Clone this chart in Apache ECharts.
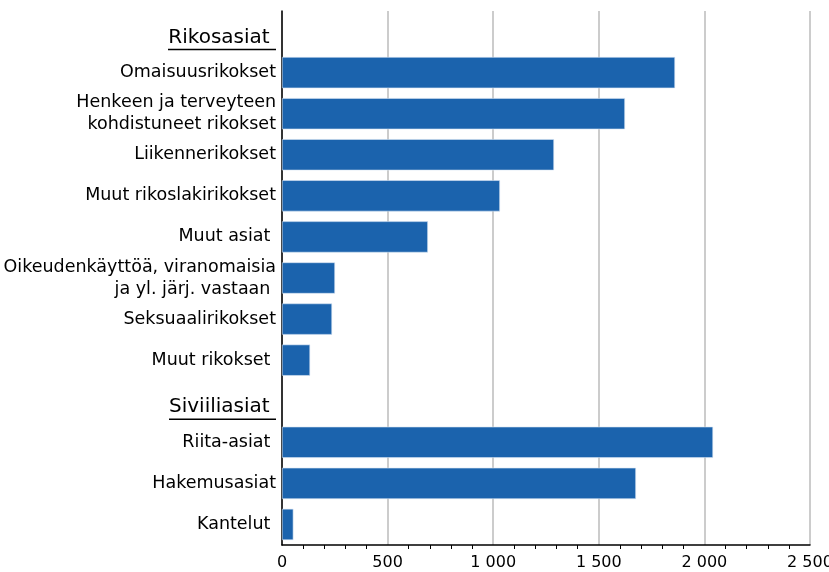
<!DOCTYPE html>
<html>
<head>
<meta charset="utf-8">
<script src="https://cdn.jsdelivr.net/npm/echarts@6/dist/echarts.min.js"></script>
<style>
  html, body { margin: 0; padding: 0; background: #fff; }
  #chart { width: 829px; height: 572px; }
</style>
</head>
<body>
<div id="chart"></div>
<script>
// luokat ylhäältä alas, otsikkorivit ilman arvoa
const categories = [
  'Rikosasiat ',
  'Omaisuusrikokset',
  'Henkeen ja terveyteen\nkohdistuneet rikokset',
  'Liikennerikokset',
  'Muut rikoslakirikokset',
  'Muut asiat ',
  'Oikeudenkäyttöä, viranomaisia\nja yl. järj. vastaan ',
  'Seksuaalirikokset',
  'Muut rikokset ',
  'Siviiliasiat ',
  'Riita-asiat ',
  'Hakemusasiat',
  'Kantelut '
]
const values = [null, 1861, 1624, 1288, 1032, 691, 251, 237, 133, null, 2041, 1676, 54]
const headers = ['Rikosasiat ', 'Siviiliasiat ']
const xTicks = [0, 500, 1000, 1500, 2000, 2500]

const FONT = 'DejaVu Sans'
const labelSize = 17.5
const headerSize = 20

// alleviivauksen leveys = otsikon tekstin leveys
function textWidth(txt, size) {
  const ctx = document.createElement('canvas').getContext('2d')
  ctx.font = size + 'px "' + FONT + '"'
  return Math.round(ctx.measureText(txt).width)
}

const chart = echarts.init(document.getElementById('chart'))

const option = {
  animation: false,
  grid: { left: 282, right: 19, top: 11, bottom: 27, outerBoundsMode: 'none', containLabel: false },
  xAxis: {
    type: 'value',
    min: xTicks[0],
    max: xTicks[xTicks.length - 1],
    interval: 500,
    axisLine: { show: true, lineStyle: { color: '#000', width: 1.5 } },
    axisTick: { show: false },
    minorTick: { show: true, splitNumber: 5, length: 4, lineStyle: { color: '#000' } },
    splitLine: { show: true, lineStyle: { color: '#cccccc', width: 2 } },
    axisLabel: {
      color: '#000',
      fontFamily: FONT,
      fontSize: 16,
      margin: 10,
      formatter: v => String(v).replace(/\B(?=(\d{3})+(?!\d))/g, ' ')
    }
  },
  yAxis: {
    type: 'category',
    inverse: true,
    data: categories,
    axisLine: { show: true, onZero: false, lineStyle: { color: '#000', width: 1.5 } },
    axisTick: { show: false },
    axisLabel: {
      color: '#000',
      fontFamily: FONT,
      fontSize: labelSize,
      lineHeight: 22,
      margin: 6,
      formatter: function (v) {
        const i = headers.indexOf(v)
        // tyhjä rivi yläpuolella siirtää otsikon alaspäin
        if (i >= 0) return '{s|}\n{h|' + v + '}\n{u' + i + '|}'
        return v
      },
      rich: {
        s: { width: 1, height: 17, lineHeight: 17 },
        h: { fontFamily: FONT, fontSize: headerSize, color: '#000', lineHeight: 19 },
        u0: { width: textWidth(headers[0], headerSize), height: 1.5, backgroundColor: '#000', lineHeight: 5 },
        u1: { width: textWidth(headers[1], headerSize), height: 1.5, backgroundColor: '#000', lineHeight: 5 }
      }
    }
  },
  series: [
    {
      type: 'bar',
      data: values,
      barCategoryGap: '24%',
      itemStyle: { color: '#1b63ad', borderColor: '#d6e4f3', borderWidth: 0.6 }
    }
  ]
}

chart.setOption(option)
</script>
</body>
</html>
